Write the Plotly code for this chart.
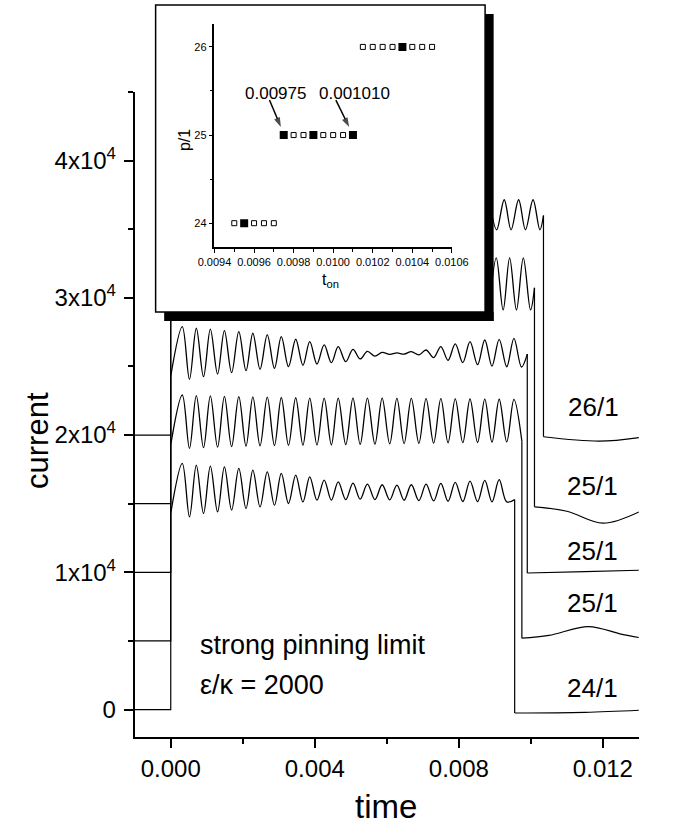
import plotly.graph_objects as go

W, H = 673, 829
def px(x): return x / W
def py(y): return 1 - y / H

# ---------------- data ----------------
# times of oscillation maxima / minima for the three fully visible curves
peak_t = [0.00032, 0.00071, 0.00110, 0.00149, 0.00189, 0.00228, 0.00268, 0.00307, 0.00347,
          0.00386, 0.00426, 0.00465, 0.00506, 0.00546, 0.00587, 0.00628, 0.00668, 0.00709,
          0.00750, 0.00790, 0.00831, 0.00872, 0.00912, 0.00953]
trough_t = [0.00052, 0.00091, 0.00130, 0.00169, 0.00209, 0.00248, 0.00288, 0.00327, 0.00367,
            0.00406, 0.00446, 0.00486, 0.00526, 0.00567, 0.00608, 0.00648, 0.00689, 0.00730,
            0.00770, 0.00811, 0.00852, 0.00892, 0.00933, 0.00974]

labels = ["24/1", "25/1", "25/1", "25/1", "26/1"]
offsets = [0, 5000, 10000, 15000, 20000]
t_on = [0.00955, 0.00975, 0.00990, 0.01010, 0.01035]
start_vals = [14300, 19300, 24300, 29000, 29000]
end_vals = [15300, 19550, 25900, 30730, 36000]

c0_peaks = [17935, 17810, 17740, 17685, 17570, 17445, 17325, 17205, 17080, 16960, 16715, 16590,
            16500, 16420, 16380, 16360, 16380, 16420, 16480, 16560, 16640, 16700, 16750]
c0_troughs = [14040, 14285, 14400, 14525, 14650, 14765, 14890, 15015, 15130, 15255, 15255, 15300,
              15330, 15300, 15280, 15250, 15230, 15200, 15180, 15160, 15150, 15140, 15130]
c1_peaks = [22920, 22880, 22850, 22820, 22800, 22780, 22760, 22740, 22720, 22700, 22700, 22700,
            22700, 22700, 22690, 22680, 22670, 22660, 22650, 22640, 22630, 22620, 22610, 22600]
c1_troughs = [19030, 19080, 19120, 19160, 19190, 19220, 19240, 19260, 19270, 19280, 19290, 19300,
              19320, 19340, 19360, 19380, 19400, 19420, 19440, 19450, 19460, 19480, 19500]
c2_peaks = [27905, 27785, 27715, 27610, 27540, 27420, 27300, 27175, 26985, 26810, 26570, 26445,
            26250, 26100, 26020, 25990, 26080, 26200, 26450, 26640, 26810, 26930, 26980, 27050]
c2_troughs = [24065, 24255, 24450, 24550, 24690, 24795, 24865, 24985, 25085, 25180, 25275, 25350,
              25550, 25750, 25880, 25900, 25850, 25650, 25450, 25280, 25130, 25030, 24980, 24960]
peaks = [c0_peaks, c1_peaks, c2_peaks]
troughs = [c0_troughs, c1_troughs, c2_troughs]

# the two upper curves are only visible to the right of the inset
c3_t = [0.00885, 0.00904, 0.00923, 0.00941, 0.00960, 0.00979, 0.00999]
c3_v = [29120, 32920, 29120, 32920, 29120, 32920, 29120]
c4_t = [0.00885, 0.00905, 0.00926, 0.00945, 0.00966, 0.00985, 0.01006, 0.01025]
c4_v = [37150, 34960, 37150, 34960, 37150, 34960, 37150, 34960]

# relaxation after switching off: (time, current)
tail0_t = [0.00955, 0.0115, 0.0130]; tail0_v = [-250, -200, -50]
tail1_t = [0.00975, 0.0105, 0.0116, 0.0125, 0.0130]; tail1_v = [5200, 5400, 6050, 5500, 5250]
tail2_t = [0.00990, 0.0115, 0.0130]; tail2_v = [9950, 10050, 10150]
tail3_t = [0.01010, 0.0110, 0.0120, 0.0130]; tail3_v = [14770, 14450, 13580, 14400]
tail4_t = [0.01035, 0.0119, 0.0130]; tail4_v = [19880, 19560, 19820]
tails_t = [tail0_t, tail1_t, tail2_t, tail3_t, tail4_t]
tails_v = [tail0_v, tail1_v, tail2_v, tail3_v, tail4_v]

# inset: p/1 versus t_on
open_t = [0.00950, 0.00960, 0.00965, 0.00970,
          0.00980, 0.00985, 0.00995, 0.01000, 0.01005,
          0.01015, 0.01020, 0.01025, 0.01030, 0.01040, 0.01045, 0.01050]
open_p = [24, 24, 24, 24,
          25, 25, 25, 25, 25,
          26, 26, 26, 26, 26, 26, 26]
full_t = [0.00955, 0.00975, 0.00990, 0.01010, 0.01035]
full_p = [24, 25, 25, 25, 26]
marked = [1, 3]            # filled points that carry a value label
marked_text = ["0.00975", "0.001010"]

x_ticks = [0, 0.004, 0.008, 0.012]
x_ticktext = ["0.000", "0.004", "0.008", "0.012"]
y_ticks = [0, 10000, 20000, 30000, 40000]
y_ticktext = ["0", "1x10<sup>4</sup>", "2x10<sup>4</sup>", "3x10<sup>4</sup>", "4x10<sup>4</sup>"]
inset_xticks = [0.0094, 0.0096, 0.0098, 0.0100, 0.0102, 0.0104, 0.0106]
inset_xticktext = ["0.0094", "0.0096", "0.0098", "0.0100", "0.0102", "0.0104", "0.0106"]
inset_yticks = [24, 25, 26]

FONT = "Liberation Sans, Arial, Helvetica, sans-serif"

# inset geometry (pixels) and ranges
IX0, IX1, IY0, IY1 = 208, 458, 24, 247
IXR = [0.0094, 0.0106]
IYR = [23.73, 26.26]
dx_px = (IXR[1] - IXR[0]) / (IX1 - IX0)
dy_px = (IYR[1] - IYR[0]) / (IY1 - IY0)

fig = go.Figure()
thin = dict(color="black", width=1.2)
osc = dict(color="black", width=1.3, shape="spline")

for i in range(5):
    fig.add_trace(go.Scatter(x=[-0.001, 0, 0], y=[offsets[i], offsets[i], start_vals[i]],
                             mode="lines", line=thin, hoverinfo="skip"))
    if i < 3:
        pts = [(0.0, start_vals[i])]
        pts += list(zip(peak_t[:len(peaks[i])], peaks[i]))
        pts += list(zip(trough_t[:len(troughs[i])], troughs[i]))
        pts.sort()
        xs = [p[0] for p in pts] + [t_on[i]]
        ys = [p[1] for p in pts] + [end_vals[i]]
    else:
        xs = (c3_t if i == 3 else c4_t) + [t_on[i]]
        ys = (c3_v if i == 3 else c4_v) + [end_vals[i]]
    fig.add_trace(go.Scatter(x=xs, y=ys, mode="lines", line=osc, hoverinfo="skip"))
    fig.add_trace(go.Scatter(x=[t_on[i], t_on[i]], y=[end_vals[i], tails_v[i][0]], mode="lines",
                             line=thin, hoverinfo="skip"))
    fig.add_trace(go.Scatter(x=tails_t[i], y=tails_v[i], mode="lines",
                             line=dict(color="black", width=1.2, shape="spline"), hoverinfo="skip"))

# white panel of the inset (hides the curves underneath)
fig.add_trace(go.Scatter(x=[None], y=[None], xaxis="x2", yaxis="y2", mode="markers"))

fig.add_trace(go.Scatter(x=open_t, y=open_p, xaxis="x3", yaxis="y3", mode="markers",
                         marker=dict(symbol="square-open", size=5, color="black",
                                     line=dict(width=1, color="black"))))
fig.add_trace(go.Scatter(x=full_t, y=full_p, xaxis="x3", yaxis="y3", mode="markers",
                         marker=dict(symbol="square", size=8, color="black")))

# arrows pointing at the labelled points: tail / head offsets in pixels from the point
arrow_px = [((-15, -35), (-3, -8)), ((-18, -35), (-4, -8))]
for k, ((tx, ty), (hx, hy)) in zip(marked, arrow_px):
    x0, y0 = full_t[k], full_p[k]
    fig.add_trace(go.Scatter(
        x=[x0 + tx * dx_px, x0 + hx * dx_px], y=[y0 - ty * dy_px, y0 - hy * dy_px],
        xaxis="x3", yaxis="y3", mode="lines+markers", line=dict(color="black", width=1.5),
        marker=dict(symbol="arrow", size=[0, 10], color="black", angleref="previous",
                    line=dict(width=0)),
        hoverinfo="skip"))

axis_common = dict(showline=True, linecolor="black", showgrid=False, zeroline=False,
                   ticks="outside", tickcolor="black")

fig.update_layout(
    width=W, height=H, margin=dict(l=0, r=0, t=0, b=0),
    paper_bgcolor="white", plot_bgcolor="white", showlegend=False,
    font=dict(family=FONT, color="black"),
    xaxis=dict(domain=[px(124), px(655)], range=[-0.001, 0.013], anchor="y",
               tickvals=x_ticks, ticktext=x_ticktext, ticklen=9, tickwidth=2, linewidth=2,
               tickfont=dict(size=24, family=FONT),
               minor=dict(tickvals=[0.002, 0.006, 0.010], ticks="outside", ticklen=5, tickwidth=2,
                          tickcolor="black"),
               **axis_common),
    yaxis=dict(domain=[py(737), py(92)], range=[-2000, 45000], anchor="x",
               tickvals=y_ticks, ticktext=y_ticktext, ticklen=9, tickwidth=2, linewidth=2,
               tickfont=dict(size=24, family=FONT), ticklabelstandoff=3,
               minor=dict(tickvals=[5000, 15000, 25000, 35000, 45000], ticks="outside", ticklen=5,
                          tickwidth=2, tickcolor="black"),
               **axis_common),
    xaxis2=dict(domain=[px(146), px(493)], range=[0, 1], visible=False, anchor="y2"),
    yaxis2=dict(domain=[py(312), py(5)], range=[0, 1], visible=False, anchor="x2"),
    xaxis3=dict(domain=[px(IX0), px(IX1)], range=IXR, anchor="y3",
                tickvals=inset_xticks, ticktext=inset_xticktext, ticklen=4, tickwidth=1.2,
                linewidth=1.5, tickfont=dict(size=11, family=FONT),
                minor=dict(dtick=0.0001, tick0=0.0094, ticks="outside", ticklen=3, tickwidth=1,
                           tickcolor="black"),
                **axis_common),
    yaxis3=dict(domain=[py(IY1), py(IY0)], range=IYR, anchor="x3",
                tickvals=inset_yticks, ticklen=4, tickwidth=1.2, linewidth=1.5,
                tickfont=dict(size=11, family=FONT),
                minor=dict(tickvals=[24.5, 25.5], ticks="outside", ticklen=3, tickwidth=1,
                           tickcolor="black"),
                **axis_common),
)

shapes = [
    dict(type="rect", xref="paper", yref="paper", x0=px(493), x1=px(502), y0=py(321), y1=py(14),
         fillcolor="black", line=dict(width=0), layer="above"),
    dict(type="rect", xref="paper", yref="paper", x0=px(155), x1=px(502), y0=py(321), y1=py(312),
         fillcolor="black", line=dict(width=0), layer="above"),
    dict(type="rect", xref="paper", yref="paper", x0=px(146), x1=px(493), y0=py(312), y1=py(5),
         line=dict(color="black", width=1.5), layer="above"),
]
fig.update_layout(shapes=shapes)

ann = []
def text(x, y, s, size, **kw):
    d = dict(x=px(x), y=py(y), xref="paper", yref="paper", text=s, showarrow=False,
             font=dict(size=size, family=FONT, color="black"))
    d.update(kw)
    ann.append(d)

text(191, 645, "strong pinning limit", 27, xanchor="left", yanchor="middle")
text(191, 685, "ε/κ = 2000", 27, xanchor="left", yanchor="middle")
label_pos = [(606, 688), (606, 603), (606, 551), (606, 486), (607, 407)]
for (x, y), s in zip(label_pos, labels):
    text(x, y, s, 26, xanchor="center", yanchor="middle")
text(21, 440, "current", 31, textangle=-90, xanchor="center", yanchor="middle")
text(389, 806, "time", 33, xanchor="center", yanchor="middle")
text(272, 94, marked_text[0], 17, xanchor="center", yanchor="middle")
text(355, 94, marked_text[1], 17, xanchor="center", yanchor="middle")
text(176, 140, "p/1", 16, textangle=-90, xanchor="center", yanchor="middle")
text(330, 280, "t<sub>on</sub>", 16, xanchor="center", yanchor="middle")
fig.update_layout(annotations=ann)

fig.write_html("out.html")
